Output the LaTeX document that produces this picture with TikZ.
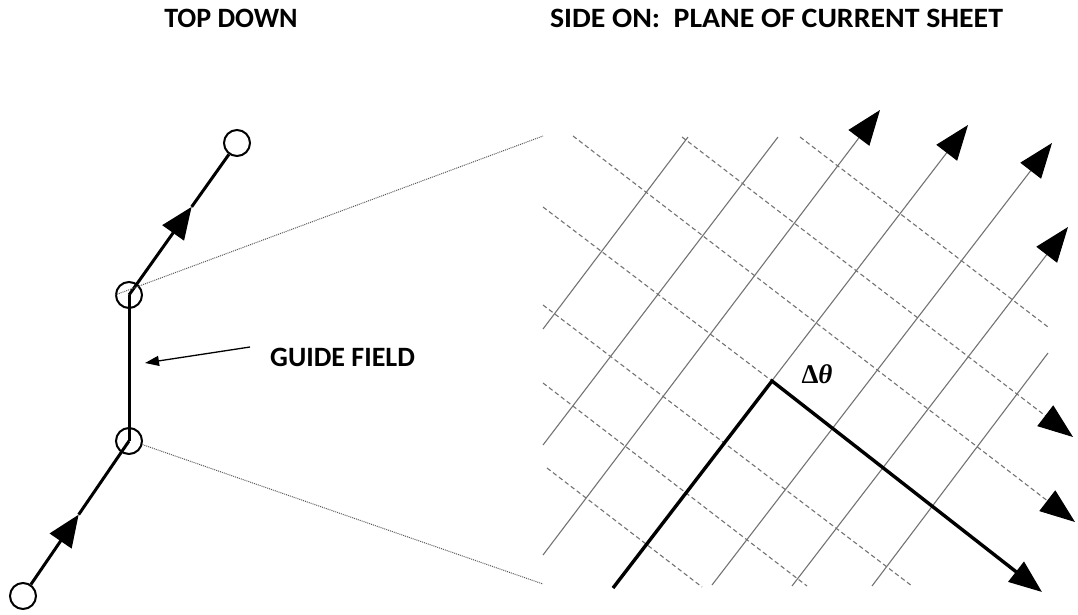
\documentclass[tikz,border=0pt]{standalone}
\usepackage{fontspec}
\newfontfamily\labelfont{Carlito}
\newfontfamily\symfont{Liberation Serif}
\usetikzlibrary{arrows.meta,calc}
\definecolor{gridgray}{gray}{0.45}
\definecolor{projgray}{gray}{0.35}
\begin{document}
\begin{tikzpicture}[x=1pt,y=-1pt,
  gline/.style={draw=gridgray, line width=1.1pt},
  gdash/.style={draw=gridgray, line width=1.1pt, dash pattern=on 4.5pt off 3pt},
  bigtip/.style={-{Triangle[length=35pt,width=26pt,color=black]}},
  heavy/.style={line width=3.4pt, black, line join=miter},
  fieldline/.style={line width=3pt, black},
  midtip/.style={-{Triangle[length=32pt,width=26pt]}},
  proj/.style={draw=projgray, line width=1pt, dash pattern=on 1pt off 1pt},
  ring/.style={circle, draw, line width=2pt, minimum size=26pt, inner sep=0pt},
  lbl/.style={font=\labelfont\bfseries\fontsize{28}{32}\selectfont, inner sep=0pt}
]
\useasboundingbox (0,0) rectangle (1078,615);

% titles
\node[lbl] (ttop) at (231,18) {TOP DOWN};
\node[lbl] (tside) at (776.5,18) {\scalebox{1.065}[1]{SIDE ON:\ \ PLANE OF CURRENT SHEET}};

% ---- left: top-down view ----
\node[ring, fill=white] (c1) at (237,143) {};
\node[ring] (c2) at (129,295) {};
\node[ring] (c3) at (129,441) {};
\node[ring, fill=white] (c4) at (23,596) {};

\coordinate (m1) at ($(c2.center)!0.58!(c1.center)$);
\coordinate (m2) at ($(c4.center)!0.525!(c3.center)$);
\draw[fieldline, midtip] (c2.center) -- (m1);
\draw[fieldline] (m1) -- (c1);
\draw[fieldline] (c2.center) -- (c3.center);
\draw[fieldline, midtip] (c4) -- (m2);
\draw[fieldline] (m2) -- (c3.center);

% guide field label
\node[lbl, anchor=west] (gf) at (270,357) {GUIDE FIELD};
\coordinate (gfs) at (250,347);
\coordinate (gfe) at (145,363);
\draw[line width=1.3pt, -{Triangle[length=14pt,width=10pt]}] (gfs) -- (gfe);

% projection lines
\coordinate (p1) at (543,136);
\coordinate (p2) at (543,584);
\draw[proj] (c2.west) -- (p1);
\draw[proj] (c3.-15) -- (p2);

% ---- right: side-on grid ----
% solid field lines
\draw[gline] (543,329) -- (688,137);
\draw[gline] (543,445) -- (778,137);
\draw[gline, bigtip] (543,555) -- (880,110);
\draw[gline, bigtip] (613,588) -- (968,125);
\draw[gline, bigtip] (712,585) -- (1052,143);
\draw[gline, bigtip] (792,586) -- (1068,227);
\draw[gline] (872,586) -- (1048,353);

% dashed field lines
\coordinate (corner) at (772,381);
\draw[gdash, bigtip] (573,136) -- (1075,522);
\draw[gdash] (543,207) -- (corner);
\draw[gdash] (543,305) -- (912,586);
\draw[gdash, bigtip] (682,137) -- (1073,437);
\draw[gdash] (800,137) -- (1048,327);
\draw[gdash] (543,383) -- (807,586);
\draw[gdash] (547,468) -- (702,587);

% heavy rotated field line
\coordinate (hs) at (613,588);
\coordinate (he) at (1042,592);
\draw[heavy, -{Triangle[length=33pt,width=25pt]}] (hs) -- (corner) -- (he);

\node[inner sep=0pt, font=\symfont\bfseries\fontsize{27}{30}\selectfont] (dth) at (817,374) {Δ\textit{θ}};
\end{tikzpicture}
\end{document}
